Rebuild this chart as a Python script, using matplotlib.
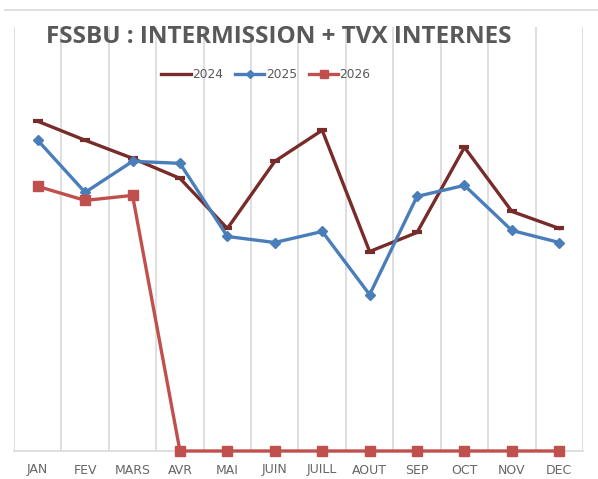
import matplotlib.pyplot as plt
import numpy as np
from matplotlib.lines import Line2D

months = ["JAN", "FEV", "MARS", "AVR", "MAI", "JUIN", "JUILL", "AOUT", "SEP", "OCT", "NOV", "DEC"]
y2024 = [32.9, 31.0, 29.2, 27.2, 22.2, 28.9, 32.0, 19.9, 21.8, 30.3, 23.9, 22.2]
y2025 = [31.0, 25.8, 28.9, 28.7, 21.4, 20.8, 21.9, 15.6, 25.4, 26.5, 22.0, 20.8]
y2026 = [26.4, 25.0, 25.5, 0, 0, 0, 0, 0, 0, 0, 0, 0]

grey = "#595959"
c24, c25, c26 = "#772C2A", "#4A7EBB", "#C0504D"
x = np.arange(len(months))

fig = plt.figure(figsize=(5.98, 4.79), dpi=100)
ax = fig.add_axes([14 / 598, 28 / 479, 569 / 598, 424 / 479])

ax.plot(x, y2024, color=c24, lw=2.4, marker="_", ms=7, mew=3, zorder=3)
ax.plot(x, y2025, color=c25, lw=2.4, marker="D", ms=5.5, zorder=4)
ax.plot(x, y2026, color=c26, lw=2.4, marker="s", ms=7.5, zorder=5, clip_on=False)

ax.set_xlim(-0.5, len(months) - 0.5)
ax.set_ylim(0, 42.3)
ax.set_xticks(x)
ax.set_xticklabels(months, fontsize=9, color="#666666")
ax.set_xticks(np.arange(-0.5, len(months)), minor=True)
ax.tick_params(axis="x", which="both", length=0, pad=9)
ax.set_yticks([])
ax.grid(axis="x", which="minor", color="#D9D9D9", lw=1.2)
for s in ["top", "left", "right"]:
    ax.spines[s].set_visible(False)
ax.spines["bottom"].set_color("#D9D9D9")
ax.spines["bottom"].set_linewidth(1.2)

fig.text(279 / 598, 1 - 37 / 479, "FSSBU : INTERMISSION + TVX INTERNES", ha="center", va="center",
         fontsize=17.5, fontweight="bold", color=grey, family="Open Sans")

handles = [
    Line2D([], [], color=c24, lw=2.4),
    Line2D([], [], color=c25, lw=2.4, marker="D", ms=4.5),
    Line2D([], [], color=c26, lw=2.4, marker="s", ms=6),
]
fig.legend(handles, ["2024", "2025", "2026"], loc="center",
           bbox_to_anchor=(266 / 598, 1 - 75 / 479), ncol=3, frameon=False,
           fontsize=8.8, labelcolor=grey, handlelength=2.4, handletextpad=0.1, columnspacing=1.0)

fig.add_artist(Line2D([5 / 598, 1], [1 - 10 / 479, 1 - 10 / 479], color="#D9D9D9", lw=1.2))

fig.savefig("out.png", dpi=100)
